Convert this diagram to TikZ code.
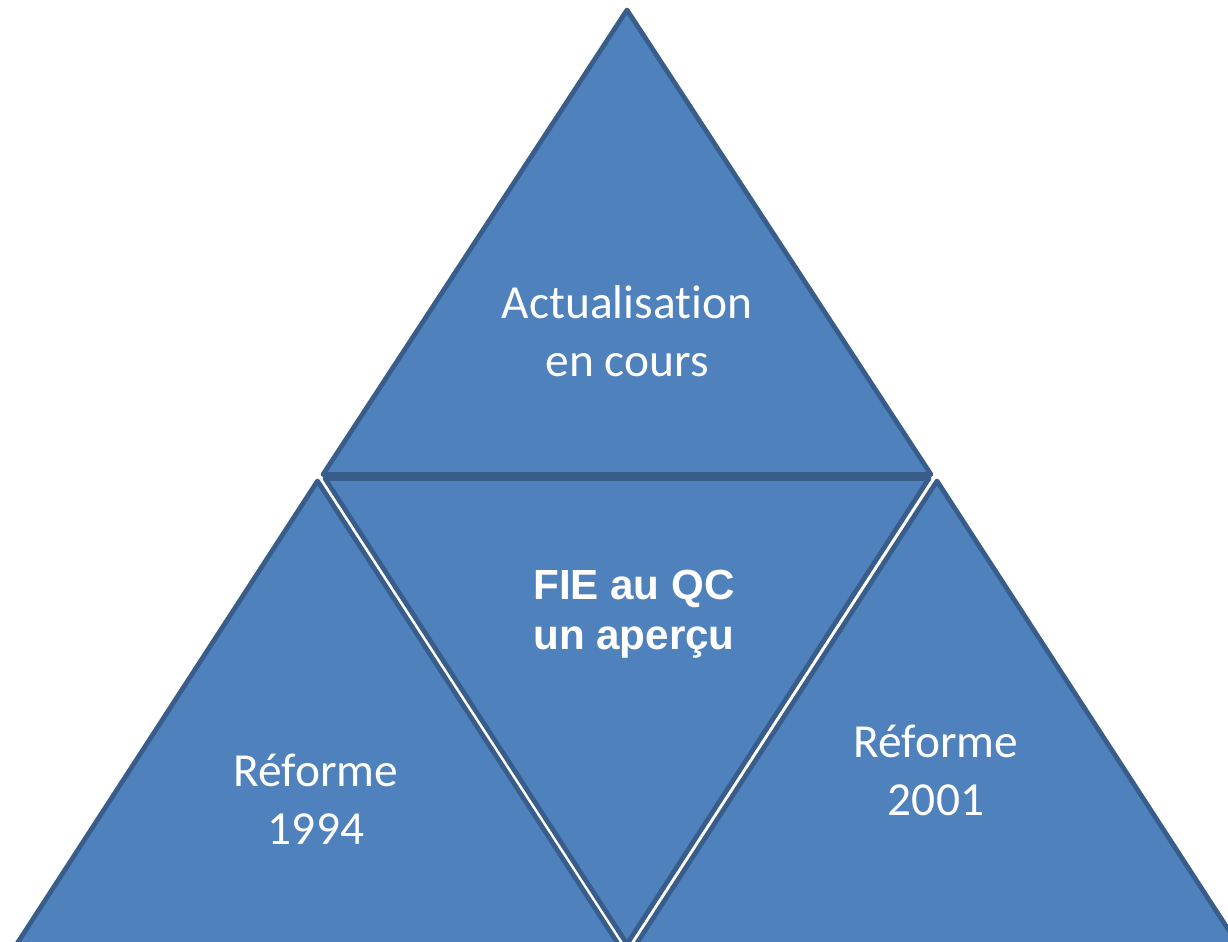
\documentclass[tikz,border=0pt]{standalone}
\usepackage{fontspec}
\setmainfont{Carlito}[Ligatures=CommonOff]
\newfontfamily\arialfont{Liberation Sans}
\definecolor{triFill}{HTML}{4F81BD}
\definecolor{triLine}{HTML}{385D8A}
\begin{document}
\begin{tikzpicture}[x=0.02cm,y=-0.02cm,
    tri/.style={fill=triFill,draw=triLine,line width=2.7pt,line join=round},
    lbl/.style={text=white,align=center,inner sep=0pt,font=\fontsize{27}{33}\selectfont},
    title/.style={text=white,align=center,inner sep=0pt,font=\arialfont\bfseries\fontsize{24}{28.2}\selectfont}]
    \useasboundingbox (0,0) rectangle (1228,942);
    \clip (0,0) rectangle (1228,942);
    % the four triangles
    \draw[tri] (627,10) -- (931,474.5) -- (323,474.5) -- cycle;
    \draw[tri] (325,478.5) -- (929,478.5) -- (627,944) -- cycle;
    \draw[tri] (317.5,481) -- (619.5,946) -- (15.5,946) -- cycle;
    \draw[tri] (937,481) -- (1239,946) -- (635,946) -- cycle;
    % texts
    \node[lbl] (actu) at (627,331) {Actualisation\\en cours};
    \node[title] (fie) at (634,614) {FIE au QC\\un aperçu};
    \node[lbl] (ref94) at (316,799) {Réforme\\1994};
    \node[lbl] (ref01) at (936,770) {Réforme\\2001};
\end{tikzpicture}
\end{document}
